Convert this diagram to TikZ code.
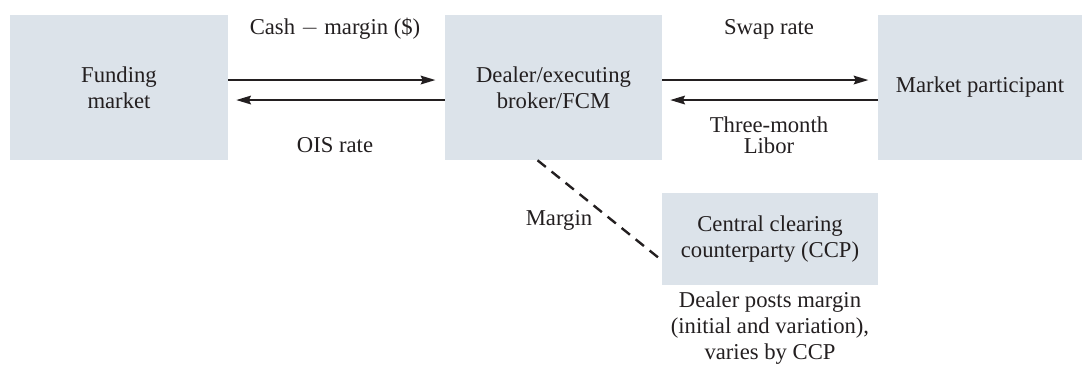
\documentclass[tikz,border=0pt]{standalone}
\usepackage{fontspec}
\setmainfont{Liberation Serif}
\usetikzlibrary{arrows.meta}
\definecolor{boxfill}{HTML}{DCE3EA}
\definecolor{ink}{HTML}{231F20}
\begin{document}
\begin{tikzpicture}[x=0.75pt,y=-0.75pt,
  every node/.style={font=\fontsize{17}{19.5}\selectfont, text=ink, align=center},
  box/.style={rectangle, fill=boxfill, inner sep=0pt},
  arr/.style={-{Stealth[length=11pt,width=6.5pt,inset=1.5pt]}, line width=1.5pt, draw=ink},
  dashline/.style={line width=1.8pt, draw=ink, dash pattern=on 8pt off 5.5pt},
  lbl/.style={inner sep=0pt}]
\useasboundingbox (0,0) rectangle (1082,371);
\node[box, minimum width=163.5pt, minimum height=108.75pt] (fund) at (119,87.5) {Funding\\market};
\node[box, minimum width=162.75pt, minimum height=108.75pt] (dealer) at (553.5,87.5) {Dealer/executing\\broker/FCM};
\node[box, minimum width=153pt, minimum height=108.75pt] (mkt) at (980,87.5) {Market participant};
\node[box, minimum width=162pt, minimum height=69pt] (ccp) at (770,239) {Central clearing\\counterparty (CCP)};

\draw[arr] ([yshift=5.6pt]fund.east) -- ([yshift=5.6pt,xshift=-7pt]dealer.west);
\draw[arr] ([yshift=-9.4pt]dealer.west) -- ([yshift=-9.4pt,xshift=6pt]fund.east);
\draw[arr] ([yshift=5.6pt]dealer.east) -- ([yshift=5.6pt,xshift=-7pt]mkt.west);
\draw[arr] ([yshift=-9.4pt]mkt.west) -- ([yshift=-9.4pt,xshift=6pt]dealer.east);
\draw[dashline] ([xshift=-12pt]dealer.south) -- ([yshift=-16pt]ccp.west);

\node[lbl] (l1) at (335,29) {Cash $-$ margin (\$)};
\node[lbl] (l2) at (335,145) {OIS rate};
\node[lbl] (l3) at (769,29) {Swap rate};
\node[lbl, font=\fontsize{17}{15.5}\selectfont] (l4) at (769,135) {Three-month\\Libor};
\node[lbl] (l5) at (559,220) {Margin};
\node[lbl] (l6) at (770,328) {Dealer posts margin\\(initial and variation),\\varies by CCP};
\end{tikzpicture}
\end{document}
